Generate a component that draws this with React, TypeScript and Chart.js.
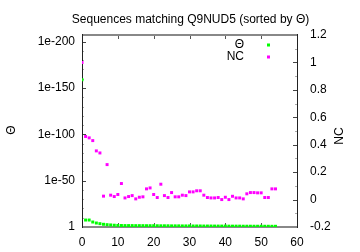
import React, { useEffect, useRef } from "react";
import { Chart, registerables } from "chart.js";

Chart.register(...registerables);

const TITLE = "Sequences matching Q9NUD5 (sorted by Θ)";
const THETA_LABEL = "Θ";
const NC_LABEL = "NC";

// Θ values (log axis), one per sequence index 0..54
const THETA = [
  1e-159, 3e-8, 3e-8, 4e-6, 5e-5, 2.5e-4, 1.2e-3, 3e-3, 6e-3, 0.012,
  0.02, 0.025, 0.03, 0.03, 0.03, 0.035, 0.035, 0.035, 0.04, 0.04,
  0.04, 0.045, 0.05, 0.05, 0.05, 0.06, 0.06, 0.06, 0.07, 0.07,
  0.07, 0.08, 0.08, 0.08, 0.09, 0.09, 0.09, 0.1, 0.1, 0.1,
  0.1, 0.12, 0.12, 0.12, 0.12, 0.14, 0.14, 0.14, 0.15, 0.15,
  0.15, 0.16, 0.16, 0.17, 0.17,
];

// NC values (right axis)
const NC = [
  1.0, 0.46, 0.45, 0.43, 0.355, 0.34, 0.025, 0.255, 0.032, 0.022,
  0.037, 0.117, 0.012, 0.022, 0.029, 0.005, 0.017, 0.02, 0.078, 0.085,
  0.037, 0.015, 0.112, 0.029, 0.015, 0.051, 0.02, 0.02, 0.032, 0.029,
  0.056, 0.056, 0.064, 0.064, 0.032, 0.015, 0.012, 0.012, 0.015, 0.0,
  0.017, 0.0, 0.024, 0.012, 0.012, 0.005, 0.042, 0.051, 0.051, 0.049,
  0.049, 0.015, 0.015, 0.078, 0.078,
];

const X_TICKS = [0, 10, 20, 30, 40, 50, 60];
const THETA_TICK_VALUES = [1, 1e-50, 1e-100, 1e-150, 1e-200];
const THETA_TICK_LABELS = ["1", "1e-50", "1e-100", "1e-150", "1e-200"];
const THETA_MINOR_EXPONENTS = [
  -10, -20, -30, -40, -60, -70, -80, -90, -110, -120, -130, -140,
  -160, -170, -180, -190,
];
const NC_TICKS = [-0.2, 0, 0.2, 0.4, 0.6, 0.8, 1, 1.2];
const NC_TICK_LABELS = ["-0.2", "0", "0.2", "0.4", "0.6", "0.8", "1", "1.2"];
const NC_MINOR = [-0.1, 0.1, 0.3, 0.5, 0.7, 0.9, 1.1];

const FONT = { family: "'Liberation Sans', Arial, Helvetica, sans-serif", size: 12 };
const GREEN = "#00ff00";
const MAGENTA = "#ff00ff";

const decor = {
  id: "decor",
  beforeDatasetsDraw(chart: any) {
    const { ctx, chartArea: a, scales } = chart;
    const xs = scales.x;
    const ys = scales.y;
    const y2 = scales.y2;
    ctx.save();
    const seg = (x1: number, y1: number, x2: number, y2p: number, c: string) => {
      ctx.strokeStyle = c;
      ctx.lineWidth = 1;
      ctx.beginPath();
      ctx.moveTo(x1, y1);
      ctx.lineTo(x2, y2p);
      ctx.stroke();
    };
    X_TICKS.forEach((v) => {
      const px = Math.round(xs.getPixelForValue(v)) + 0.5;
      seg(px, a.top, px, a.top + 4, "#555");
      seg(px, a.bottom, px, a.bottom - 4, "#555");
    });
    THETA_TICK_VALUES.forEach((v) => {
      const py = Math.round(ys.getPixelForValue(v)) + 0.5;
      seg(a.left, py, a.left + 4, py, "#444");
    });
    THETA_MINOR_EXPONENTS.forEach((e) => {
      const py = Math.round(ys.getPixelForValue(Math.pow(10, e))) + 0.5;
      seg(a.left, py, a.left + 2, py, "#aaa");
    });
    NC_TICKS.forEach((v) => {
      const py = Math.round(y2.getPixelForValue(v)) + 0.5;
      seg(a.right, py, a.right - 4, py, "#444");
    });
    NC_MINOR.forEach((v) => {
      const py = Math.round(y2.getPixelForValue(v)) + 0.5;
      seg(a.right, py, a.right - 2, py, "#aaa");
    });
    ctx.fillStyle = "#888";
    ctx.fillRect(a.left, a.top - 1, a.right - a.left + 1, 2);
    ctx.fillRect(a.left, a.bottom - 1, a.right - a.left + 1, 2);
    ctx.fillStyle = "#222";
    ctx.fillRect(a.left, a.top - 1, 1, a.bottom - a.top + 2);
    ctx.fillRect(a.right, a.top - 1, 1, a.bottom - a.top + 2);
    ctx.restore();
  },
  afterDraw(chart: any) {
    const { ctx } = chart;
    ctx.save();
    ctx.font = `${FONT.size}px ${FONT.family}`;
    ctx.textAlign = "right";
    ctx.textBaseline = "middle";
    chart.data.datasets.forEach((ds: any, i: number) => {
      const ty = 45 + i * 12;
      ctx.fillStyle = "#000";
      ctx.fillText(ds.label, 244, ty);
      ctx.fillStyle = ds.pointBackgroundColor;
      ctx.fillRect(267, ty - 1.5, 3, 3);
    });
    ctx.fillStyle = "#000";
    ctx.textAlign = "center";
    // left axis title
    ctx.save();
    ctx.translate(12, 130);
    ctx.rotate(-Math.PI / 2);
    ctx.fillText(THETA_LABEL, 0, 0);
    ctx.restore();
    // right axis title, bottom-to-top
    ctx.save();
    ctx.translate(340, 136);
    ctx.rotate(-Math.PI / 2);
    ctx.fillText(NC_LABEL, 0, 0);
    ctx.restore();
    ctx.restore();
  },
};

export default function App() {
  const ref = useRef<HTMLCanvasElement | null>(null);
  useEffect(() => {
    document.body.style.margin = "0";
    const canvas = ref.current;
    if (!canvas) return;
    const chart = new Chart(canvas, {
      type: "scatter",
      data: {
        datasets: [
          {
            label: THETA_LABEL,
            data: THETA.map((v, i) => ({ x: i, y: v })),
            yAxisID: "y",
            pointStyle: "rect",
            pointRadius: 2.1,
            pointBorderWidth: 0,
            pointBackgroundColor: GREEN,
            backgroundColor: GREEN,
            borderColor: GREEN,
          },
          {
            label: NC_LABEL,
            data: NC.map((v, i) => ({ x: i, y: v })),
            yAxisID: "y2",
            pointStyle: "rect",
            pointRadius: 2.1,
            pointBorderWidth: 0,
            pointBackgroundColor: MAGENTA,
            backgroundColor: MAGENTA,
            borderColor: MAGENTA,
          },
        ],
      },
      options: {
        responsive: false,
        animation: false,
        devicePixelRatio: 1,
        layout: { padding: { left: 21, right: 0, top: 0, bottom: 0 } },
        plugins: {
          legend: { display: false },
          tooltip: { enabled: false },
          title: {
            display: true,
            text: TITLE,
            fullSize: true,
            color: "#000",
            font: { family: FONT.family, size: 12, weight: "normal" },
            padding: { top: 12.3, bottom: 8.3 },
          },
        },
        scales: {
          x: {
            type: "linear",
            position: "bottom",
            min: 0,
            max: 60,
            afterBuildTicks: (s: any) => {
              s.ticks = X_TICKS.map((v) => ({ value: v }));
            },
            ticks: { color: "#000", font: FONT, padding: 8, autoSkip: false, maxRotation: 0 },
            grid: { display: false, drawTicks: false },
            border: { display: false },
            afterFit: (s: any) => {
              s.height = 25;
            },
          },
          y: {
            type: "logarithmic",
            position: "left",
            min: 6e-208,
            max: 1,
            reverse: true,
            afterBuildTicks: (s: any) => {
              s.ticks = THETA_TICK_VALUES.map((v) => ({ value: v }));
            },
            ticks: {
              color: "#000",
              font: FONT,
              padding: 7,
              autoSkip: false,
              callback: (v: any) => THETA_TICK_LABELS[THETA_TICK_VALUES.indexOf(Number(v))] ?? "",
            },
            grid: { display: false, drawTicks: false },
            border: { display: false },
            afterFit: (s: any) => {
              s.width = 61;
            },
          },
          y2: {
            type: "linear",
            position: "right",
            min: -0.2,
            max: 1.2,
            afterBuildTicks: (s: any) => {
              s.ticks = NC_TICKS.map((v) => ({ value: v }));
            },
            ticks: {
              color: "#000",
              font: FONT,
              padding: 13,
              autoSkip: false,
              callback: (v: any) => NC_TICK_LABELS[NC_TICKS.indexOf(Number(v))] ?? "",
            },
            grid: { display: false, drawTicks: false },
            border: { display: false },
            afterFit: (s: any) => {
              s.width = 63;
            },
          },
        },
      } as any,
      plugins: [decor],
    });
    return () => chart.destroy();
  }, []);
  return (
    <div style={{ width: 360, height: 252, background: "#fff" }}>
      <canvas ref={ref} width={360} height={252} style={{ display: "block" }} />
    </div>
  );
}
